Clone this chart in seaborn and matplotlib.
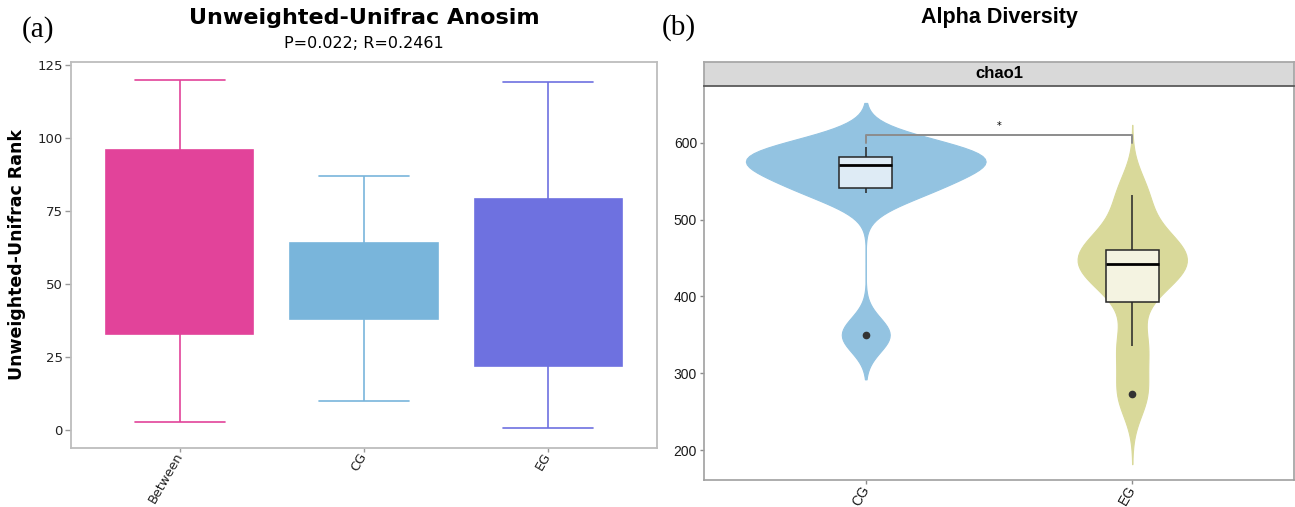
import numpy as np
import pandas as pd
import matplotlib
matplotlib.use("Agg")
import matplotlib.pyplot as plt
import seaborn as sns

# ---------------- Panel (a): ANOSIM rank boxplots ----------------
anosim_groups = ["Between", "CG", "EG"]
anosim_colors = ["#E2439A", "#79B5DB", "#6E71E0"]
rank_min = [3, 10, 1]
rank_q1 = [33, 38, 22]
rank_med = [65, 52, 50]
rank_q3 = [96, 64, 79]
rank_max = [120, 87, 119]
rank_ticks = [0, 25, 50, 75, 100, 125]
anosim_title = "Unweighted-Unifrac Anosim"
anosim_sub = "P=0.022; R=0.2461"
anosim_ylabel = "Unweighted-Unifrac Rank"

# ---------------- Panel (b): chao1 violins ----------------
alpha_groups = ["CG", "EG"]
chao1_cg = [350, 535, 544, 565, 577, 580, 588, 594]
chao1_eg = [273, 336, 411, 437, 448, 455, 479, 532]
violin_colors = ["#93C3E1", "#D9D99A"]
box_colors = ["#DEEBF5", "#F4F3E1"]
chao_ticks = [200, 300, 400, 500, 600]
alpha_title = "Alpha Diversity"
strip_label = "chao1"
sig_y = 610
sig_label = "*"

sns.set_theme(style="ticks")
plt.rcParams["font.family"] = ["DejaVu Sans"]
plt.rcParams["text.color"] = "black"
plt.rcParams["axes.labelcolor"] = "black"

W, H = 1295, 507
fig = plt.figure(figsize=(W / 100, H / 100), dpi=100)

# ----- panel (a) -----
rows = []
for g, a, b, c, d, e in zip(anosim_groups, rank_min, rank_q1, rank_med, rank_q3, rank_max):
    for v in (a, b, c, d, e):
        rows.append({"group": g, "rank": v})
df_a = pd.DataFrame(rows)

axa = fig.add_axes([71 / W, 1 - 448 / H, (657 - 71) / W, (448 - 62) / H])
for g, col in zip(anosim_groups, anosim_colors):
    sns.boxplot(data=df_a[df_a["group"] == g], x="group", y="rank", order=anosim_groups,
                color=col, linecolor=col, saturation=1, width=0.8, whis=1.5,
                fliersize=0, linewidth=1.2, medianprops=dict(visible=False), ax=axa)
for ln in axa.lines:
    xd, yd = np.asarray(ln.get_xdata(), float), np.asarray(ln.get_ydata(), float)
    if len(xd) == 2 and yd[0] == yd[1] and xd[0] != xd[1]:
        cx = xd.mean()
        ln.set_xdata([cx - 0.245, cx + 0.245])
axa.set_xlim(-0.59, 2.59)
axa.set_ylim(-6, 126)
axa.set_yticks(rank_ticks)
axa.set_xlabel("")
axa.set_ylabel(anosim_ylabel, fontsize=12.5, fontweight="bold", labelpad=8)
for s in axa.spines.values():
    s.set_visible(True)
    s.set_color("#BDBDBD")
    s.set_linewidth(1.3)
axa.tick_params(axis="y", length=4, width=1, color="#9A9A9A", labelsize=9.5, labelcolor="#222222", pad=2)
axa.tick_params(axis="x", length=3, width=1, color="#9A9A9A", labelsize=9.3, labelcolor="#222222", pad=1)
plt.setp(axa.get_xticklabels(), rotation=60, ha="right", va="center", rotation_mode="anchor")

fig.text((71 + 657) / 2 / W, 1 - 18 / H, anosim_title, ha="center", va="center",
         fontsize=16, fontweight="bold")
fig.text((71 + 657) / 2 / W, 1 - 44 / H, anosim_sub, ha="center", va="center", fontsize=11.5)
fig.text(22 / W, 1 - 30 / H, "(a)", ha="left", va="center", fontsize=21, family=["Liberation Serif"])

# ----- panel (b) -----
df_b = pd.DataFrame({"group": ["CG"] * len(chao1_cg) + ["EG"] * len(chao1_eg),
                     "chao1": chao1_cg + chao1_eg})
axb = fig.add_axes([704 / W, 1 - 480 / H, (1294 - 704) / W, (480 - 86) / H])
for g, vals, vc, w, adj, ct in zip(alpha_groups, [chao1_cg, chao1_eg], violin_colors,
                                   [0.9, 0.41], [1.25, 1.0], [2.6, 3.0]):
    arr = np.asarray(vals, float)
    sd = arr.std(ddof=1)
    q75, q25 = np.percentile(arr, [75, 25])
    bw = 0.9 * min(sd, (q75 - q25) / 1.34) * len(arr) ** -0.2
    sns.violinplot(data=df_b[df_b["group"] == g], x="group", y="chao1", order=alpha_groups,
                   color=vc, linecolor=vc, saturation=1, inner=None, cut=ct,
                   bw_method=bw / sd, bw_adjust=adj,
                   density_norm="width", width=w, linewidth=0.8, ax=axb)
for g, bc in zip(alpha_groups, box_colors):
    sns.boxplot(data=df_b[df_b["group"] == g], x="group", y="chao1", order=alpha_groups,
                color=bc, linecolor="#262626", saturation=1, width=0.2, linewidth=1.1,
                showcaps=False, fliersize=4.5,
                flierprops=dict(marker="o", markerfacecolor="#333333", markeredgecolor="#333333"),
                medianprops=dict(linewidth=2, color="black"), ax=axb)

axb.plot([0, 0, 1, 1], [sig_y - 10, sig_y, sig_y, sig_y - 10], color="#8C8C8C", lw=1.4, zorder=6)
axb.text(0.5, sig_y + 12, sig_label, ha="center", va="center", fontsize=7, zorder=6)

axb.set_xlim(-0.607, 1.607)
axb.set_ylim(161, 674)
axb.set_yticks(chao_ticks)
axb.set_xlabel("")
axb.set_ylabel("")
for side, s in axb.spines.items():
    s.set_visible(side != "top")
    s.set_color("#A0A0A0")
    s.set_linewidth(1.2)
axb.tick_params(axis="both", length=3, width=1, color="#8C8C8C", labelsize=10, labelcolor="#1A1A1A", pad=2)
for lab in axb.get_xticklabels() + axb.get_yticklabels():
    lab.set_family(["Liberation Sans"])
plt.setp(axb.get_xticklabels(), rotation=60, ha="right", va="center", rotation_mode="anchor")

strip = fig.add_axes([704 / W, 1 - 86 / H, (1294 - 704) / W, 24 / H])
strip.set_facecolor("#D9D9D9")
strip.set_xticks([])
strip.set_yticks([])
for side, s in strip.spines.items():
    s.set_color("#5A5A5A" if side == "bottom" else "#A8A8A8")
    s.set_linewidth(1.3)
strip.text(0.5, 0.5, strip_label, ha="center", va="center", fontsize=12, fontweight="bold",
           family=["Liberation Sans"], transform=strip.transAxes)

fig.text((704 + 1294) / 2 / W, 1 - 18 / H, alpha_title, ha="center", va="center",
         fontsize=15.5, fontweight="bold", family=["Liberation Sans"])
fig.text(662 / W, 1 - 28 / H, "(b)", ha="left", va="center", fontsize=21, family=["Liberation Serif"])

fig.savefig("out.png", dpi=100)
